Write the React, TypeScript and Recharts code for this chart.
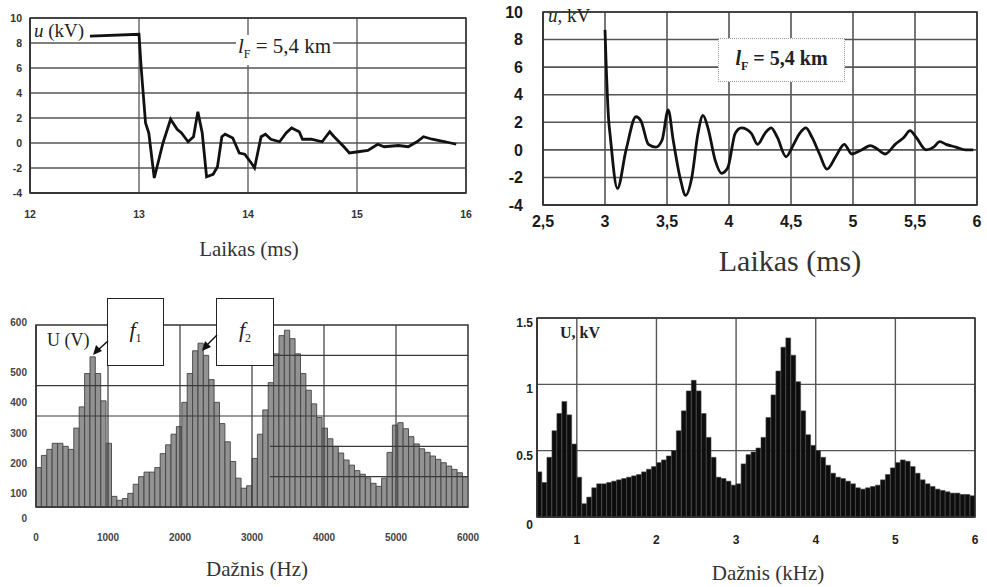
import React from 'react';
import {
  LineChart, Line, BarChart, Bar, XAxis, YAxis, CartesianGrid,
  ReferenceArea, ReferenceLine,
} from 'recharts';

// ---------- Panel A (top-left): u(t), 12–16 ms ----------
const timeA = [12.55, 13.0, 13.02, 13.06, 13.09, 13.14, 13.22, 13.29, 13.35, 13.39, 13.45, 13.5, 13.54, 13.58, 13.62, 13.68, 13.72, 13.76, 13.79, 13.86, 13.92, 13.97, 14.03, 14.06, 14.12, 14.16, 14.21, 14.29, 14.35, 14.4, 14.47, 14.5, 14.58, 14.68, 14.75, 14.79, 14.88, 14.93, 15.01, 15.1, 15.19, 15.25, 15.38, 15.47, 15.55, 15.61, 15.69, 15.81, 15.91];
const voltA = [8.55, 8.7, 6.0, 1.6, 0.8, -2.8, 0, 1.9, 1.1, 0.8, 0.1, 0.5, 2.5, 0.8, -2.7, -2.5, -1.9, 0.5, 0.7, 0.4, -0.8, -0.9, -1.6, -2.0, 0.5, 0.7, 0.3, 0.1, 0.8, 1.2, 0.9, 0.3, 0.3, 0.1, 0.9, 0.5, -0.3, -0.8, -0.7, -0.6, -0.1, -0.3, -0.2, -0.3, 0.1, 0.5, 0.3, 0.1, -0.1];
const ticksTimeA = [12, 13, 14, 15, 16];
const ticksVoltA = [-4, -2, 0, 2, 4, 6, 8, 10];

// ---------- Panel B (top-right): u(t), 2.5–6 ms ----------
const timeB = [3.0, 3.01, 3.03, 3.04, 3.1, 3.17, 3.25, 3.29, 3.35, 3.41, 3.46, 3.51, 3.55, 3.61, 3.65, 3.7, 3.75, 3.79, 3.83, 3.89, 3.94, 3.99, 4.05, 4.1, 4.18, 4.23, 4.29, 4.34, 4.39, 4.46, 4.51, 4.57, 4.62, 4.67, 4.73, 4.79, 4.86, 4.93, 4.99, 5.06, 5.14, 5.19, 5.26, 5.34, 5.41, 5.46, 5.51, 5.59, 5.65, 5.7, 5.75, 5.83, 5.91, 5.97];
const voltB = [8.7, 6.0, 2.1, 1.2, -2.8, 0, 2.4, 2.1, 0.4, 0.2, 0.7, 2.9, 0.7, -2.2, -3.3, -2.0, 1.2, 2.5, 1.6, -0.8, -1.7, -1.3, 1.2, 1.6, 1.2, 0.4, 1.2, 1.6, 0.9, -0.5, 0.2, 1.2, 1.6, 0.9, -0.3, -1.4, -0.5, 0.4, -0.3, -0.05, 0.3, 0.1, -0.3, 0.4, 0.9, 1.4, 0.9, 0, 0.2, 0.6, 0.4, 0.2, 0, 0];
const ticksTimeB = [2.5, 3, 3.5, 4, 4.5, 5, 5.5, 6];
const ticksVoltB = [-4, -2, 0, 2, 4, 6, 8, 10];

// ---------- Panel C (bottom-left): spectrum U (V) vs Hz (bin centres) ----------
const freqC = [37.5, 112.5, 187.5, 262.5, 337.5, 412.5, 487.5, 562.5, 637.5, 712.5, 787.5, 862.5, 937.5, 1012.5, 1087.5, 1162.5, 1237.5, 1312.5, 1387.5, 1462.5, 1537.5, 1612.5, 1687.5, 1762.5, 1837.5, 1912.5, 1987.5, 2062.5, 2137.5, 2212.5, 2287.5, 2362.5, 2437.5, 2512.5, 2587.5, 2662.5, 2737.5, 2812.5, 2887.5, 2962.5, 3037.5, 3112.5, 3187.5, 3262.5, 3337.5, 3412.5, 3487.5, 3562.5, 3637.5, 3712.5, 3787.5, 3862.5, 3937.5, 4012.5, 4087.5, 4162.5, 4237.5, 4312.5, 4387.5, 4462.5, 4537.5, 4612.5, 4687.5, 4762.5, 4837.5, 4912.5, 4987.5, 5062.5, 5137.5, 5212.5, 5287.5, 5362.5, 5437.5, 5512.5, 5587.5, 5662.5, 5737.5, 5812.5, 5887.5, 5962.5];
const ampC = [130, 170, 190, 210, 210, 200, 190, 260, 330, 440, 495, 440, 350, 210, 35, 22, 28, 45, 75, 100, 115, 115, 130, 176, 205, 240, 265, 345, 440, 515, 540, 500, 420, 345, 275, 215, 150, 95, 62, 70, 160, 240, 320, 410, 505, 565, 583, 555, 505, 440, 385, 340, 295, 260, 225, 200, 178, 155, 138, 120, 108, 96, 78, 68, 95, 180, 270, 278, 258, 232, 208, 192, 180, 168, 157, 146, 135, 124, 113, 100];
const ticksFreqC = [0, 1000, 2000, 3000, 4000, 5000, 6000];
const ticksAmpC = [0, 100, 200, 300, 400, 500, 600];

// ---------- Panel D (bottom-right): spectrum U (kV) vs kHz (bin centres) ----------
const freqD = [0.531, 0.594, 0.656, 0.719, 0.781, 0.844, 0.906, 0.969,
  1.031, 1.094, 1.156, 1.219, 1.281, 1.344, 1.406, 1.469,
  1.531, 1.594, 1.656, 1.719, 1.781, 1.844, 1.906, 1.969,
  2.031, 2.094, 2.156, 2.219, 2.281, 2.344, 2.406, 2.469,
  2.531, 2.594, 2.656, 2.719, 2.781, 2.844, 2.906, 2.969,
  3.031, 3.094, 3.156, 3.219, 3.281, 3.344, 3.406, 3.469,
  3.531, 3.594, 3.656, 3.719, 3.781, 3.844, 3.906, 3.969,
  4.031, 4.094, 4.156, 4.219, 4.281, 4.344, 4.406, 4.469,
  4.531, 4.594, 4.656, 4.719, 4.781, 4.844, 4.906, 4.969,
  5.031, 5.094, 5.156, 5.219, 5.281, 5.344, 5.406, 5.469,
  5.531, 5.594, 5.656, 5.719, 5.781, 5.844, 5.906, 5.969];
const ampD = [0.34, 0.26, 0.45, 0.65, 0.78, 0.87, 0.77, 0.55,
  0.30, 0.10, 0.15, 0.22, 0.25, 0.25, 0.26, 0.27,
  0.28, 0.29, 0.30, 0.31, 0.32, 0.34, 0.36, 0.38,
  0.41, 0.43, 0.46, 0.50, 0.65, 0.80, 0.95, 1.03,
  0.95, 0.78, 0.60, 0.45, 0.30, 0.29, 0.27, 0.24,
  0.25, 0.40, 0.47, 0.49, 0.52, 0.60, 0.75, 0.92,
  1.10, 1.28, 1.35, 1.22, 1.02, 0.80, 0.62, 0.54,
  0.50, 0.45, 0.39, 0.33, 0.30, 0.29, 0.27, 0.25,
  0.22, 0.21, 0.22, 0.23, 0.24, 0.28, 0.32, 0.37,
  0.41, 0.43, 0.42, 0.38, 0.33, 0.28, 0.25, 0.23,
  0.21, 0.20, 0.19, 0.18, 0.18, 0.17, 0.17, 0.16];
const ticksFreqD = [1, 2, 3, 4, 5, 6];
const ticksAmpD = [0, 0.5, 1, 1.5];

const serif = '"Liberation Serif", "Times New Roman", serif';
const sans = '"Liberation Sans", Arial, sans-serif';

const dataA = timeA.map((t, i) => ({ t, u: voltA[i] }));
const dataB = timeB.map((t, i) => ({ t, u: voltB[i] }));
const dataC = freqC.map((f, i) => ({ f, v: ampC[i] }));
const dataD = freqD.map((f, i) => ({ f, v: ampD[i] }));

const tickA = { fontSize: 10.5, fontWeight: 'bold' as const, fill: '#333', fontFamily: sans };
const tickB = { fontSize: 16, fontWeight: 'bold' as const, fill: '#1a1a1a', fontFamily: sans };
const tickC = { fontSize: 10, fontWeight: 'bold' as const, fill: '#444', fontFamily: sans };
const tickD = { fontSize: 12, fontWeight: 'bold' as const, fill: '#222', fontFamily: sans };

const YTickC = (props: any) => {
  const { x, y, payload } = props;
  const v = payload.value;
  const shift = v === 600 ? -3 : v === 0 ? 11 : 17;
  return (
    <text x={x} y={y + shift} textAnchor="end" dominantBaseline="central" {...tickC}>{v}</text>
  );
};

const YTickD = (props: any) => {
  const { x, y, payload } = props;
  const v = payload.value;
  const shift = v === 0 ? 8 : 5;
  return (
    <text x={x} y={y + shift} textAnchor="end" dominantBaseline="central" {...tickD}>{v}</text>
  );
};

function PanelA() {
  return (
    <LineChart width={480} height={275} data={dataA} margin={{ top: 18, right: 14, left: 0, bottom: 0 }}>
      <CartesianGrid stroke="#555" strokeWidth={1.3} />
      <XAxis dataKey="t" type="number" domain={[12, 16]} ticks={ticksTimeA} allowDataOverflow
        tick={tickA} tickLine={false} tickMargin={12} height={82} axisLine={{ stroke: '#333', strokeWidth: 1.5 }} />
      <YAxis type="number" domain={[-4, 10]} ticks={ticksVoltA} allowDataOverflow width={30}
        tick={tickA} tickLine={false} tickMargin={2} axisLine={{ stroke: '#333', strokeWidth: 1.5 }} />
      <ReferenceArea x1={12} x2={16} y1={-4} y2={10} fill="none" stroke="#333" strokeWidth={1.5} />
      <Line type="linear" dataKey="u" stroke="#111" strokeWidth={2.8} dot={false} isAnimationActive={false} />
    </LineChart>
  );
}

function PanelB() {
  return (
    <LineChart width={507} height={280} data={dataB} margin={{ top: 12, right: 10, left: 0, bottom: 0 }}>
      <CartesianGrid stroke="#555" strokeWidth={1.6} />
      <XAxis dataKey="t" type="number" domain={[2.5, 6]} ticks={ticksTimeB} allowDataOverflow
        tickFormatter={(v: number) => String(v).replace('.', ',')}
        tick={tickB} tickLine={false} tickMargin={5} height={75} axisLine={{ stroke: '#333', strokeWidth: 1.5 }} />
      <YAxis type="number" domain={[-4, 10]} ticks={ticksVoltB} allowDataOverflow width={63}
        tick={tickB} tickLine={false} tickMargin={14} axisLine={{ stroke: '#333', strokeWidth: 1.5 }} />
      <ReferenceArea x1={2.5} x2={6} y1={-4} y2={10} fill="none" stroke="#333" strokeWidth={1.5} />
      <Line type="monotone" dataKey="u" stroke="#111" strokeWidth={2.8} dot={false} isAnimationActive={false} />
    </LineChart>
  );
}

function PanelC() {
  const gridStroke = '#3a3a3a';
  return (
    <BarChart width={480} height={260} data={dataC} margin={{ top: 35, right: 12, left: 0, bottom: 0 }}
      barCategoryGap={0} barGap={0}>
      <XAxis dataKey="f" type="number" domain={[0, 6000]} ticks={ticksFreqC} allowDataOverflow
        tick={tickC} tickLine={false} tickMargin={21} height={43} axisLine={{ stroke: '#333', strokeWidth: 1.5 }} />
      <YAxis type="number" domain={[0, 600]} ticks={ticksAmpC} allowDataOverflow width={36}
        tick={<YTickC />} tickLine={false} tickMargin={3} axisLine={{ stroke: '#333', strokeWidth: 1.5 }} />
      <Bar dataKey="v" barSize={5.3} fill="#929292" stroke="#444" strokeWidth={0.9} isAnimationActive={false} />
      {[1000, 2000, 3000, 4000, 5000].map((x) => (
        <ReferenceLine key={'vx' + x} x={x} stroke={gridStroke} strokeWidth={1.2} />
      ))}
      {[300, 400].map((y) => (
        <ReferenceLine key={'hy' + y} y={y} stroke={gridStroke} strokeWidth={1.2} />
      ))}
      {[100, 200, 500].map((y) => (
        <ReferenceLine key={'sy' + y} segment={[{ x: 3250, y }, { x: 6000, y }]} stroke={gridStroke} strokeWidth={1.2} />
      ))}
      <ReferenceArea x1={0} x2={6000} y1={0} y2={600} fill="none" stroke="#333" strokeWidth={1.5} />
    </BarChart>
  );
}

function PanelD() {
  return (
    <BarChart width={497} height={260} data={dataD} margin={{ top: 28, right: 12, left: 0, bottom: 0 }}
      barCategoryGap={0} barGap={0}>
      <CartesianGrid stroke="#555" strokeWidth={1.4} />
      <XAxis dataKey="f" type="number" domain={[0.5, 6]} ticks={ticksFreqD} allowDataOverflow
        tick={tickD} tickLine={false} tickMargin={12} height={33} axisLine={{ stroke: '#333', strokeWidth: 1.5 }} />
      <YAxis type="number" domain={[0, 1.5]} ticks={ticksAmpD} allowDataOverflow width={47}
        tick={<YTickD />} tickLine={false} tickSize={0} tickMargin={4} axisLine={{ stroke: '#333', strokeWidth: 1.5 }} />
      <Bar dataKey="v" barSize={4.8} fill="#0d0d0d" stroke="#444" strokeWidth={0.6} isAnimationActive={false} />
      <ReferenceArea x1={0.5} x2={6} y1={0} y2={1.5} fill="none" stroke="#333" strokeWidth={1.5} />
    </BarChart>
  );
}

const pos = (left: number, top: number, extra: React.CSSProperties = {}): React.CSSProperties => ({
  position: 'absolute', left, top, ...extra,
});

const title = (cx: number, top: number, text: string, size = 21, extra: React.CSSProperties = {}) => (
  <div style={pos(cx - 150, top, {
    width: 300, textAlign: 'center', fontFamily: serif, fontSize: size,
    lineHeight: size + 'px', color: '#333', whiteSpace: 'nowrap', ...extra,
  })}>{text}</div>
);

export default function App() {
  return (
    <div style={{ position: 'absolute', left: 0, top: 0, width: 987, height: 587, background: '#fff', overflow: 'hidden', fontFamily: serif }}>
      <div style={pos(0, 0)}><PanelA /></div>
      <div style={pos(480, 0)}><PanelB /></div>
      <div style={pos(0, 290)}><PanelC /></div>
      <div style={pos(490, 290)}><PanelD /></div>

      {/* axis titles */}
      {title(249, 239, 'Laikas (ms)')}
      {title(790, 246, 'Laikas (ms)', 30)}
      {title(257, 559, 'Dažnis (Hz)')}
      {title(768, 563, 'Dažnis (kHz)')}

      {/* Panel A annotations */}
      <div style={pos(34, 21, { fontFamily: serif, fontSize: 19, lineHeight: '19px', color: '#222', background: '#fff', whiteSpace: 'nowrap' })}>
        <i>u</i> (kV)
      </div>
      <div style={pos(236, 35, { fontFamily: serif, fontSize: 21, lineHeight: '22px', color: '#222', background: '#fff', padding: '0 2px', whiteSpace: 'nowrap' })}>
        <i>l</i><sub style={{ fontSize: 12 }}>F</sub> = 5,4 km
      </div>

      {/* Panel B annotations */}
      <div style={pos(548, 6, { fontFamily: serif, fontSize: 19, lineHeight: '19px', color: '#222', whiteSpace: 'nowrap' })}>
        <i>u</i>, kV
      </div>
      <div style={pos(718, 38, {
        width: 125, height: 42, border: '1px dotted #999', background: '#fff',
        display: 'flex', alignItems: 'center', justifyContent: 'center',
        fontFamily: serif, fontSize: 20, fontWeight: 'bold', color: '#222', whiteSpace: 'nowrap',
      })}>
        <span><i>l</i><sub style={{ fontSize: 12 }}>F</sub> = 5,4 km</span>
      </div>

      {/* Panel C annotations */}
      <div style={pos(47, 331, { fontFamily: serif, fontSize: 18, lineHeight: '18px', color: '#222', whiteSpace: 'nowrap' })}>
        U (V)
      </div>
      <div style={pos(107, 298, {
        width: 57, height: 68, border: '1.5px solid #222', background: '#fff',
        fontFamily: serif, fontSize: 22, color: '#222', textAlign: 'center', paddingTop: 18, boxSizing: 'border-box',
      })}>
        <i>f</i><sub style={{ fontSize: 12 }}>1</sub>
      </div>
      <div style={pos(216, 298, {
        width: 58, height: 68, border: '1.5px solid #222', background: '#fff',
        fontFamily: serif, fontSize: 22, color: '#222', textAlign: 'center', paddingTop: 18, boxSizing: 'border-box',
      })}>
        <i>f</i><sub style={{ fontSize: 12 }}>2</sub>
      </div>

      {/* Panel D annotation */}
      <div style={pos(560, 325, { fontFamily: serif, fontSize: 16, lineHeight: '16px', fontWeight: 'bold', color: '#222', whiteSpace: 'nowrap' })}>
        U, kV
      </div>

      {/* arrows from f1 / f2 boxes */}
      <svg width={987} height={587} style={pos(0, 0, { pointerEvents: 'none' })}>
        <line x1={108} y1={341} x2={98} y2={350} stroke="#111" strokeWidth={1.5} />
        <polygon points="93,355 96,345 102,351" fill="#111" />
        <line x1={217} y1={335} x2={207} y2={345} stroke="#111" strokeWidth={1.5} />
        <polygon points="202,351 205,341 211,347" fill="#111" />
      </svg>
    </div>
  );
}
